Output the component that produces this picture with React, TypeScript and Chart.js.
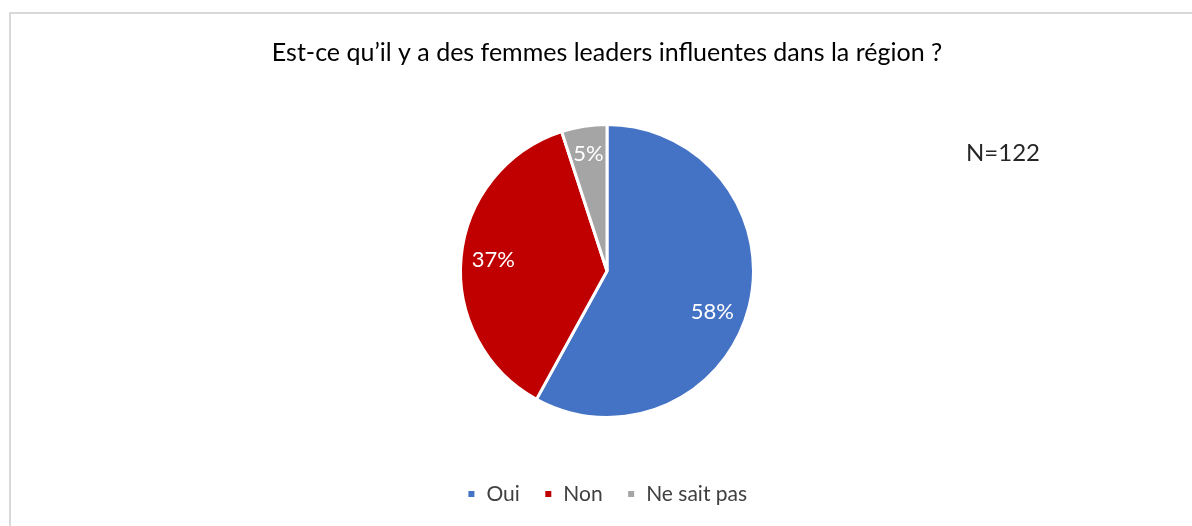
import React, { useEffect, useRef } from "react";
import { Chart, registerables } from "chart.js";

Chart.register(...registerables);

// Survey answers (percent of respondents)
const categories = ["Oui", "Non", "Ne sait pas"];
const shares = [58, 37, 5];
const sliceColors = ["#4472C4", "#C00000", "#A5A5A5"];
const titleText = "Est-ce qu’il y a des femmes leaders influentes dans la région ?";
const sampleNote = "N=122";

// Label placement inside each slice: fraction of the radius and angular nudge (degrees)
const labelRadiusFactor = [0.77, 0.78, 0.81];
const labelAngleNudge = [6.6, 0, 0];

const FONT = "Lato, 'Open Sans', sans-serif";

const sliceLabels = {
  id: "sliceLabels",
  afterDatasetsDraw(chart: any) {
    const ctx = chart.ctx;
    const meta = chart.getDatasetMeta(0);
    ctx.save();
    ctx.fillStyle = "#FFFFFF";
    ctx.font = `22px ${FONT}`;
    ctx.textAlign = "center";
    ctx.textBaseline = "middle";
    meta.data.forEach((arc: any, i: number) => {
      const { x, y, startAngle, endAngle, outerRadius } = arc.getProps(
        ["x", "y", "startAngle", "endAngle", "outerRadius"],
        true
      );
      const mid = (startAngle + endAngle) / 2 + (labelAngleNudge[i] * Math.PI) / 180;
      const r = outerRadius * labelRadiusFactor[i];
      ctx.fillText(`${shares[i]}%`, x + Math.cos(mid) * r, y + Math.sin(mid) * r);
    });
    ctx.restore();
  },
};

const noteLabel = {
  id: "noteLabel",
  afterDraw(chart: any) {
    const ctx = chart.ctx;
    const area = chart.chartArea;
    ctx.save();
    ctx.fillStyle = "#262626";
    ctx.font = `24px ${FONT}`;
    ctx.textAlign = "left";
    ctx.textBaseline = "middle";
    ctx.fillText(sampleNote, area.left + 944, 153);
    ctx.restore();
  },
};

export default function App() {
  const canvasRef = useRef<HTMLCanvasElement | null>(null);

  useEffect(() => {
    if (!canvasRef.current) return;
    const chart = new Chart(canvasRef.current, {
      type: "pie",
      data: {
        labels: categories,
        datasets: [
          {
            data: shares,
            backgroundColor: sliceColors,
            borderColor: "#FFFFFF",
            borderWidth: 3,
            radius: 146.5,
          },
        ],
      },
      plugins: [sliceLabels, noteLabel],
      options: {
        animation: false,
        responsive: false,
        maintainAspectRatio: false,
        layout: { padding: { left: 22, right: 0, top: 0, bottom: 11.5 } },
        plugins: {
          title: {
            display: true,
            text: titleText,
            color: "#000000",
            font: { family: FONT, size: 25, weight: "normal" },
            padding: { top: 38, bottom: 14.5 },
          },
          legend: {
            display: true,
            position: "bottom",
            labels: {
              color: "#404040",
              font: { family: FONT, size: 21 },
              boxWidth: 9,
              boxHeight: 9,
              padding: 24,
            },
          },
          tooltip: { enabled: false },
        },
      },
    });
    return () => chart.destroy();
  }, []);

  return (
    <div style={{ position: "fixed", left: 0, top: 0, width: 1192, height: 526, background: "#FFFFFF" }}>
      <div
        style={{
          position: "absolute",
          left: 9,
          top: 12,
          width: 1200,
          height: 530,
          borderLeft: "2px solid #D9D9D9",
          borderTop: "2px solid #D9D9D9",
        }}
      />
      <canvas
        ref={canvasRef}
        width={1192}
        height={526}
        style={{ position: "absolute", left: 0, top: 0, width: 1192, height: 526 }}
      />
    </div>
  );
}
